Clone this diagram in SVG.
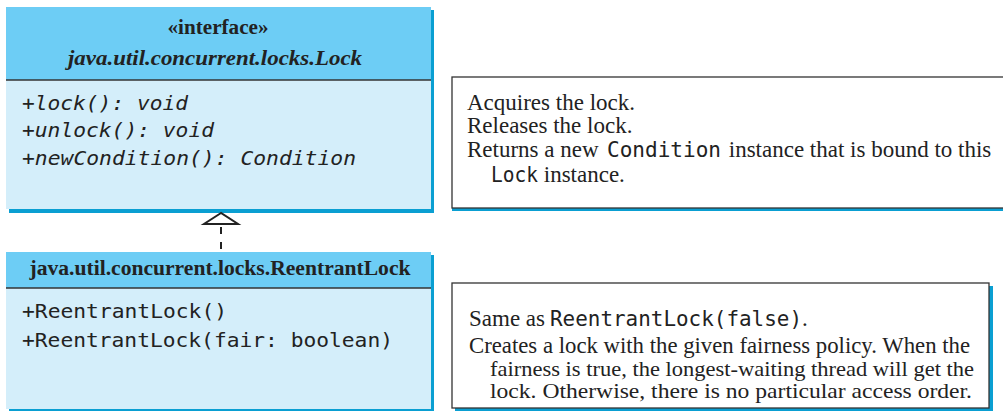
<svg xmlns="http://www.w3.org/2000/svg" width="1003" height="411" viewBox="0 0 1003 411">
<style>
.shadow{fill:#0a9fd2}
.head{fill:#6dcdf5}
.body{fill:#d4eefa}
.sep{stroke:#333;stroke-width:1.5}
.note{fill:#fff;stroke:#333;stroke-width:1.3}
.ser{font-family:"Liberation Serif","Times New Roman",serif;fill:#222}
.mono{font-family:"DejaVu Sans Mono","Liberation Mono",monospace;fill:#222}
.title{font-size:20.5px;font-weight:bold}
.meth{font-size:20px}
.desc{font-size:23px}
.desc2{font-size:22px}
.dm{font-size:20.5px}
</style>
<g id="lock">
<rect class="shadow" x="9" y="10" width="425" height="203"/>
<rect class="head" x="6" y="7" width="425" height="73"/>
<rect class="body" x="6" y="80" width="425" height="129"/>
<line class="sep" x1="6" y1="80" x2="431" y2="80"/>
<text class="ser title" x="218" y="34" text-anchor="middle" textLength="101" lengthAdjust="spacingAndGlyphs">«interface»</text>
<text class="ser title" x="215" y="65" text-anchor="middle" font-style="italic" textLength="294" lengthAdjust="spacingAndGlyphs">java.util.concurrent.locks.Lock</text>
<text class="mono meth" x="22" y="110" font-style="italic" textLength="166" lengthAdjust="spacingAndGlyphs">+lock(): void</text>
<text class="mono meth" x="22" y="137" font-style="italic" textLength="192" lengthAdjust="spacingAndGlyphs">+unlock(): void</text>
<text class="mono meth" x="22" y="165" font-style="italic" textLength="334" lengthAdjust="spacingAndGlyphs">+newCondition(): Condition</text>
</g>
<g id="reentrantlock">
<rect class="shadow" x="9" y="255" width="425" height="156"/>
<rect class="head" x="6" y="252" width="425" height="36"/>
<rect class="body" x="6" y="288" width="425" height="121"/>
<line class="sep" x1="6" y1="288" x2="431" y2="288"/>
<text class="ser title" x="220" y="275" text-anchor="middle" textLength="381" lengthAdjust="spacingAndGlyphs">java.util.concurrent.locks.ReentrantLock</text>
<text class="mono meth" x="22" y="318" textLength="205" lengthAdjust="spacingAndGlyphs">+ReentrantLock()</text>
<text class="mono meth" x="22" y="347" textLength="371" lengthAdjust="spacingAndGlyphs">+ReentrantLock(fair: boolean)</text>
</g>
<g id="lock-note">
<rect class="shadow" x="452" y="80" width="560" height="131"/>
<rect class="note" x="452" y="77" width="560" height="131"/>
<text class="ser desc" x="467" y="110">Acquires the lock.</text>
<text class="ser desc" x="467" y="133">Releases the lock.</text>
<text class="ser desc" x="467" y="157">Returns a new <tspan class="mono dm" x="607" textLength="114" lengthAdjust="spacingAndGlyphs">Condition</tspan><tspan x="723"> instance that is bound to this</tspan></text>
<text class="ser desc" x="491" y="182"><tspan class="mono dm" textLength="47" lengthAdjust="spacingAndGlyphs">Lock</tspan><tspan x="538"> instance.</tspan></text>
</g>
<g id="reentrant-note">
<rect class="shadow" x="455" y="286" width="538" height="125"/>
<rect class="note" x="452" y="283" width="537" height="125"/>
<text class="ser desc" x="469" y="326">Same as <tspan class="mono dm" x="550" textLength="252" lengthAdjust="spacingAndGlyphs">ReentrantLock(false)</tspan><tspan x="802">.</tspan></text>
<text class="ser desc" x="469" y="353" textLength="501" lengthAdjust="spacingAndGlyphs">Creates a lock with the given fairness policy. When the</text>
<text class="ser desc2" x="490" y="375.5" textLength="484" lengthAdjust="spacingAndGlyphs">fairness is true, the longest-waiting thread will get the</text>
<text class="ser desc2" x="490" y="398" textLength="482" lengthAdjust="spacingAndGlyphs">lock. Otherwise, there is no particular access order.</text>
</g>
<g id="connectors" fill="none" stroke="#222" stroke-width="2">
<line x1="221" y1="224" x2="221" y2="252" stroke-dasharray="7,8" stroke-dashoffset="-3"/>
<polygon points="221,213 204,224 238,224" fill="#fff"/>
</g>
</svg>
